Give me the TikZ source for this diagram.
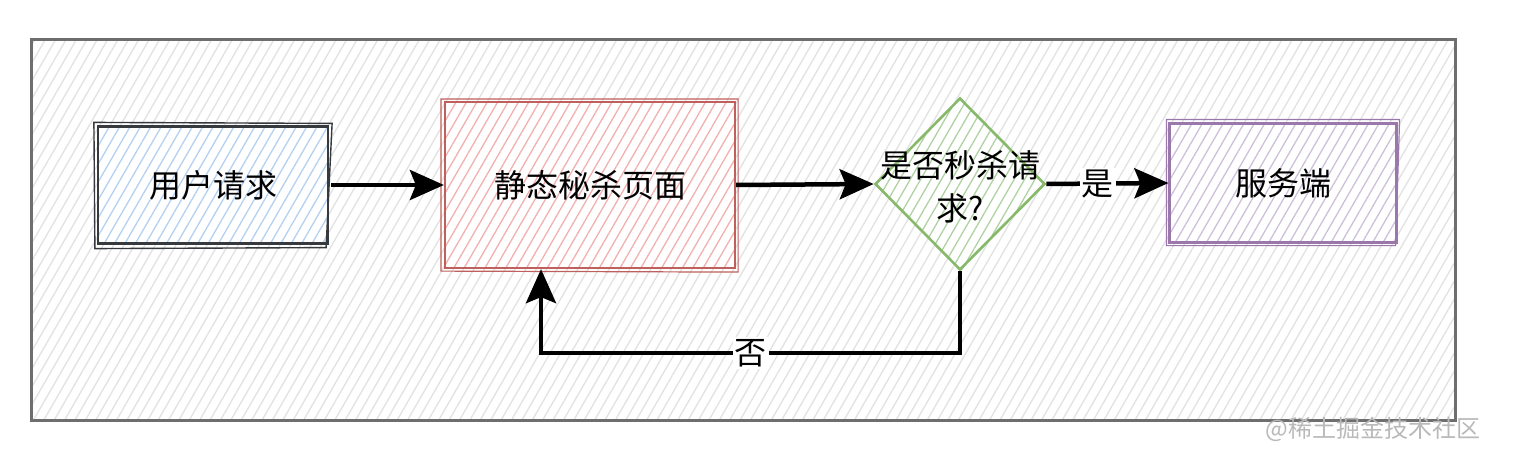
\documentclass[tikz,border=0pt]{standalone}
\usepackage{fontspec}
\setmainfont{Noto Sans CJK SC}
\usetikzlibrary{shapes.geometric,patterns.meta,arrows.meta}
\definecolor{bgline}{HTML}{E2E2E2}
\definecolor{frame}{HTML}{6E6E6E}
\definecolor{bluestroke}{HTML}{36393D}
\definecolor{bluehatch}{HTML}{B4D0F2}
\definecolor{redstroke}{HTML}{C0605C}
\definecolor{redhatch}{HTML}{F2B0B0}
\definecolor{greenstroke}{HTML}{86B96A}
\definecolor{greenhatch}{HTML}{B0D2A2}
\definecolor{purplestroke}{HTML}{9A78AC}
\definecolor{purplehatch}{HTML}{CFC0DA}
\tikzset{
  hatch/.style={preaction={fill=white},pattern={Lines[angle=60,distance=9pt,line width=1.3pt]},pattern color=#1},
  box/.style={rectangle,draw,line width=2.2pt,inner sep=0pt,font=\fontsize{32}{40}\selectfont},
  conn/.style={line width=4.5pt,-{Stealth[length=34pt,width=30pt,inset=6pt]}},
  lbl/.style={fill=white,inner sep=2pt,font=\fontsize{32}{40}\selectfont},
}
\begin{document}
\begin{tikzpicture}[x=1pt,y=-1pt]
\useasboundingbox (0,0) rectangle (1528,460);
% frame
\draw[frame,line width=3pt,hatch=bgline] (31,40) rectangle (1455,420);
% nodes
\node[box,draw=bluestroke,hatch=bluehatch,minimum width=230pt,minimum height=117pt] (user) at (213,185) {用户请求};
\node[box,draw=redstroke,hatch=redhatch,minimum width=290pt,minimum height=166pt] (page) at (590,185) {静态秘杀页面};
\node[diamond,draw=greenstroke,line width=2.6pt,hatch=greenhatch,minimum width=170pt,minimum height=172pt,inner sep=0pt] (dec) at (960,184) {};
\node[align=center,font=\fontsize{32}{43}\selectfont] (dectext) at (960,187) {是否秒杀请\\求?};
\node[box,draw=purplestroke,hatch=purplehatch,minimum width=227pt,minimum height=119pt] (srv) at (1283,183) {服务端};
% sketchy second strokes
\draw[bluestroke,line width=1.4pt] ([shift={(-3,-3)}]user.north west) -- ([shift={(3,-2)}]user.north east) -- ([shift={(-3,3)}]user.south east) -- ([shift={(-2,4)}]user.south west) -- cycle;
\draw[redstroke,line width=1.2pt] ([shift={(-3,-2)}]page.north west) -- ([shift={(2,-2)}]page.north east) -- ([shift={(2,3)}]page.south east) -- ([shift={(-3,2)}]page.south west) -- cycle;
\draw[purplestroke,line width=1.2pt] ([shift={(-2,-3)}]srv.north west) -- ([shift={(2,-3)}]srv.north east) -- ([shift={(-2,2)}]srv.south east) -- ([shift={(-2,2)}]srv.south west) -- cycle;
% connectors
\draw[conn] (user.east) ++(2,0) coordinate (ue) (ue) -- (page.west);
\draw[conn] (page.east) -- (dec.west);
\draw[conn] (dec.east) -- node[lbl,pos=0.42]{是} (srv.west);
\coordinate (c1) at (dec.south |- 0,353);
\coordinate (c2) at (541,353);
\draw[conn] (dec.south) -- (c1) -- node[lbl,pos=0.5]{否} (c2) -- (c2 |- page.south);
% watermark
\node[text=gray!55,font=\fontsize{24}{28}\selectfont,inner sep=0pt] (wm) at (1373,429) {@稀土掘金技术社区};
\end{tikzpicture}
\end{document}
